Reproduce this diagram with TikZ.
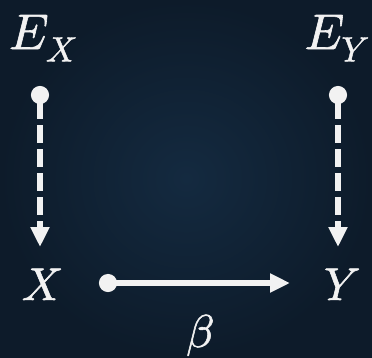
\documentclass[tikz,border=0pt]{standalone}
\usepackage{unicode-math}
\setmathfont{Latin Modern Math}[FakeBold=1.2]
\usetikzlibrary{arrows.meta}
\definecolor{bgdark}{HTML}{0D1B2A}
\definecolor{bgmid}{HTML}{142A40}
\definecolor{fg}{HTML}{F2F2F2}
\tikzset{
  bigl/.style={text=fg, inner sep=0pt, anchor=base, font=\fontsize{50}{58}\selectfont},
  midl/.style={text=fg, inner sep=0pt, anchor=base, font=\fontsize{46}{52}\selectfont},
  dasharr/.style={draw=fg, line width=6pt, dash pattern=on 18pt off 6pt,
    {Circle[length=18pt]}-{Triangle[length=20pt,width=18pt]}},
  solidarr/.style={draw=fg, line width=6pt,
    {Circle[length=18pt]}-{Triangle[length=20pt,width=18pt]}},
}
\begin{document}
\begin{tikzpicture}[x=1pt,y=-1pt]
\shade[inner color=bgmid, outer color=bgdark] (0,0) rectangle (372,357);
\useasboundingbox (0,0) rectangle (372,357);
\node[bigl] (EX) at (43,49) {$E_X$};
\node[bigl] (EY) at (337,49) {$E_Y$};
\node[midl] (X) at (42,300) {$X$};
\node[midl] (Y) at (342,300) {$Y$};
\node[midl] (B) at (200,347) {$\beta$};
\coordinate (sx) at (40,86);
\coordinate (tx) at (40,247);
\coordinate (sy) at (338,86);
\coordinate (ty) at (338,247);
\coordinate (sh) at (99,283);
\coordinate (th) at (290,283);
\draw[dasharr] (sx) -- (tx);
\draw[dasharr] (sy) -- (ty);
\draw[solidarr] (sh) -- (th);
\end{tikzpicture}
\end{document}
